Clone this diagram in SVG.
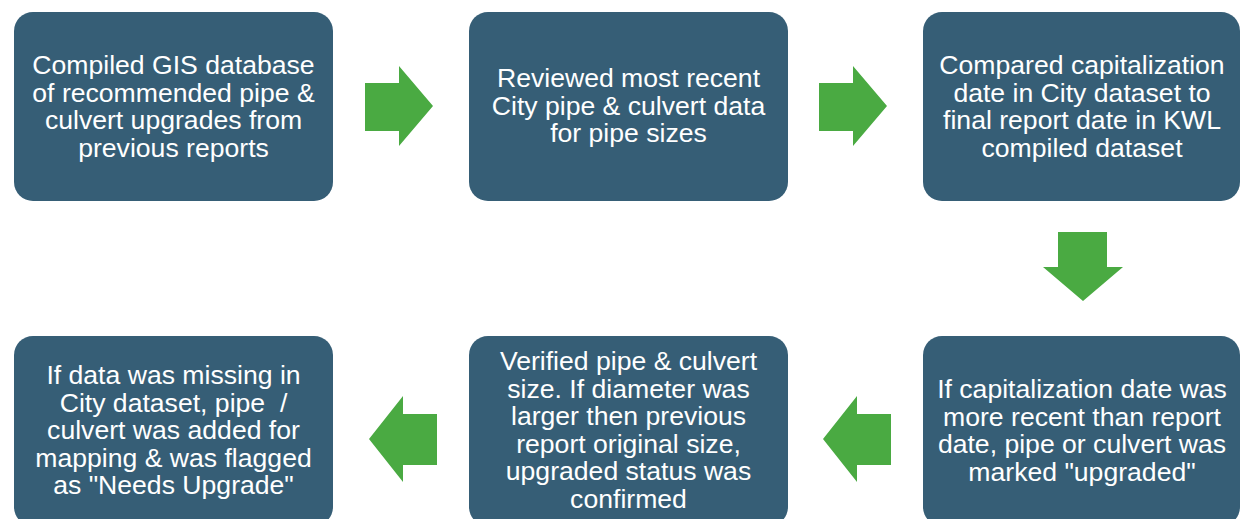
<svg xmlns="http://www.w3.org/2000/svg" width="1241" height="519" viewBox="0 0 1241 519">
<style>
.box{fill:#365E76}
.t{font-family:"Liberation Sans",Arial,sans-serif;font-size:26.6px;fill:#ffffff;text-anchor:middle}
.arr{fill:#4AAA42}
</style>
<rect width="1241" height="519" fill="#ffffff"/>
<g id="connectors">
<polygon class="arr" points="365,83 399,83 399,66 433,106 399,146 399,131 365,131"/>
<polygon class="arr" points="819,83 853,83 853,66 887,106 853,146 853,131 819,131"/>
<polygon class="arr" points="1058,232 1107,232 1107,267 1123,267 1083,301 1043,267 1058,267"/>
<polygon class="arr" points="891,414 857,414 857,396 823,439 857,482 857,465 891,465"/>
<polygon class="arr" points="437,414 403,414 403,396 369,439 403,482 403,465 437,465"/>
</g>
<g id="n1">
<rect class="box" x="14" y="12" width="319" height="189" rx="19"/>
<text class="t" x="173.5" y="74">Compiled GIS database</text>
<text class="t" x="173.5" y="101.5">of recommended pipe &amp;</text>
<text class="t" x="173.5" y="129">culvert upgrades from</text>
<text class="t" x="173.5" y="156.5">previous reports</text>
</g>
<g id="n2">
<rect class="box" x="469" y="12" width="319" height="189" rx="19"/>
<text class="t" x="628.5" y="87">Reviewed most recent</text>
<text class="t" x="628.5" y="114.5">City pipe &amp; culvert data</text>
<text class="t" x="628.5" y="142">for pipe sizes</text>
</g>
<g id="n3">
<rect class="box" x="923" y="12" width="317" height="189" rx="19"/>
<text class="t" x="1082" y="74">Compared capitalization</text>
<text class="t" x="1082" y="101.5">date in City dataset to</text>
<text class="t" x="1082" y="129">final report date in KWL</text>
<text class="t" x="1082" y="156.5">compiled dataset</text>
</g>
<g id="n4">
<rect class="box" x="923" y="336" width="317" height="190" rx="19"/>
<text class="t" x="1082" y="398">If capitalization date was</text>
<text class="t" x="1082" y="425.5">more recent than report</text>
<text class="t" x="1082" y="453">date, pipe or culvert was</text>
<text class="t" x="1082" y="480.5">marked "upgraded"</text>
</g>
<g id="n5">
<rect class="box" x="469" y="336" width="319" height="190" rx="19"/>
<text class="t" x="628.5" y="370">Verified pipe &amp; culvert</text>
<text class="t" x="628.5" y="397.5">size. If diameter was</text>
<text class="t" x="628.5" y="425">larger then previous</text>
<text class="t" x="628.5" y="452.5">report original size,</text>
<text class="t" x="628.5" y="480">upgraded status was</text>
<text class="t" x="628.5" y="507.5">confirmed</text>
</g>
<g id="n6">
<rect class="box" x="14" y="336" width="319" height="190" rx="19"/>
<text class="t" x="173.5" y="384">If data was missing in</text>
<text class="t" x="173.5" y="411.5" xml:space="preserve" style="white-space:pre">City dataset, pipe  /</text>
<text class="t" x="173.5" y="439">culvert was added for</text>
<text class="t" x="173.5" y="466.5">mapping &amp; was flagged</text>
<text class="t" x="173.5" y="494">as "Needs Upgrade"</text>
</g>
</svg>
